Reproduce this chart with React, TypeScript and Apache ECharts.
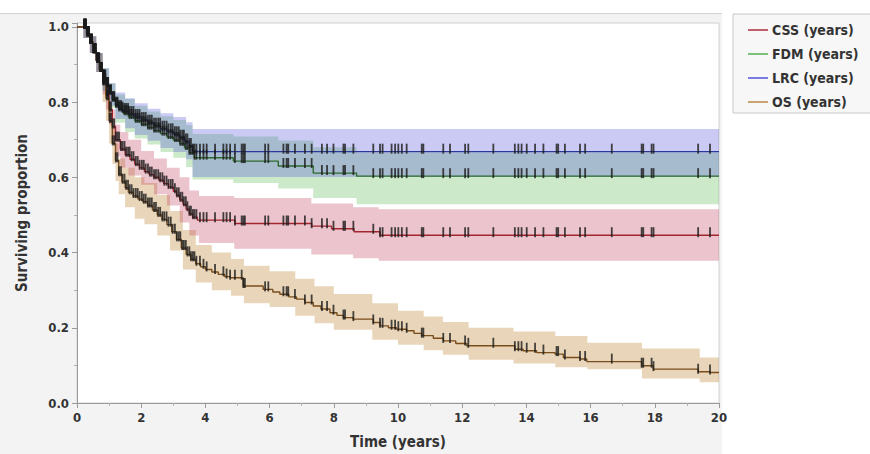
import React, { useEffect, useRef } from 'react';
import * as echarts from 'echarts';

const X_MAX = 20;
const seriesNames = ['CSS (years)', 'FDM (years)', 'LRC (years)', 'OS (years)'];
const xTickLabels = ['0', '2', '4', '6', '8', '10', '12', '14', '16', '18', '20'];

// ---- Kaplan-Meier step data ----
const lrcTimes = [0, 0.2, 0.3, 0.4, 0.5, 0.6, 0.7, 0.8, 0.9, 1.0, 1.1, 1.2, 1.3, 1.4, 1.6, 1.8, 2.0, 2.2, 2.4, 2.6, 2.8, 3.0, 3.2, 3.35, 3.5, 3.6];
const lrcSurv = [1, 1, 0.98, 0.96, 0.935, 0.91, 0.885, 0.865, 0.845, 0.825, 0.808, 0.793, 0.784, 0.776, 0.768, 0.76, 0.752, 0.745, 0.737, 0.729, 0.722, 0.714, 0.705, 0.695, 0.683, 0.668];

const fdmTimes = [0, 0.2, 0.3, 0.4, 0.5, 0.6, 0.7, 0.8, 0.9, 1.0, 1.1, 1.2, 1.3, 1.45, 1.6, 1.8, 2.0, 2.2, 2.4, 2.6, 2.8, 3.0, 3.2, 3.35, 3.5, 3.65, 4.87, 6.27, 7.36, 8.71];
const fdmSurv = [1, 1, 0.98, 0.96, 0.935, 0.91, 0.885, 0.865, 0.845, 0.825, 0.806, 0.79, 0.78, 0.77, 0.76, 0.75, 0.741, 0.732, 0.724, 0.716, 0.707, 0.699, 0.689, 0.678, 0.665, 0.652, 0.643, 0.63, 0.611, 0.603];

const cssTimes = [0, 0.2, 0.3, 0.4, 0.5, 0.6, 0.7, 0.8, 0.9, 1.0, 1.1, 1.2, 1.35, 1.5, 1.65, 1.8, 1.95, 2.1, 2.25, 2.4, 2.55, 2.7, 2.85, 3.0, 3.1, 3.2, 3.3, 3.4, 3.5, 3.6, 3.75, 4.92, 7.31, 7.93, 8.63, 9.44];
const cssSurv = [1, 1, 0.98, 0.96, 0.935, 0.91, 0.885, 0.855, 0.82, 0.78, 0.735, 0.7, 0.675, 0.66, 0.648, 0.635, 0.625, 0.615, 0.607, 0.6, 0.592, 0.583, 0.574, 0.563, 0.552, 0.54, 0.528, 0.515, 0.503, 0.494, 0.486, 0.477, 0.47, 0.463, 0.455, 0.446];

const osTimes = [0, 0.2, 0.3, 0.4, 0.5, 0.6, 0.7, 0.8, 0.9, 1.0, 1.1, 1.2, 1.3, 1.4, 1.5, 1.6, 1.75, 1.9, 2.05, 2.2, 2.35, 2.5, 2.65, 2.8, 2.95, 3.1, 3.25, 3.4, 3.55, 3.7, 3.85, 4.0, 4.2, 4.4, 4.6, 4.77, 5.18, 5.8, 6.1, 6.32, 6.6, 6.84, 7.1, 7.36, 7.6, 7.88, 8.1, 8.3, 8.6, 9.23, 9.44, 9.7, 9.96, 10.27, 10.5, 10.74, 11.1, 11.41, 11.8, 12.14, 13.64, 13.9, 14.32, 14.89, 15.15, 15.67, 15.88, 17.59, 17.95, 19.35, 19.72];
const osSurv = [1, 1, 0.98, 0.96, 0.935, 0.91, 0.885, 0.85, 0.81, 0.75, 0.69, 0.645, 0.608, 0.588, 0.572, 0.56, 0.55, 0.542, 0.535, 0.525, 0.513, 0.5, 0.488, 0.474, 0.455, 0.435, 0.412, 0.395, 0.382, 0.37, 0.362, 0.355, 0.348, 0.342, 0.336, 0.333, 0.311, 0.302, 0.295, 0.289, 0.282, 0.276, 0.267, 0.258, 0.25, 0.24, 0.233, 0.227, 0.223, 0.214, 0.205, 0.2, 0.196, 0.192, 0.185, 0.179, 0.172, 0.165, 0.158, 0.152, 0.143, 0.139, 0.134, 0.13, 0.121, 0.117, 0.11, 0.099, 0.09, 0.083, 0.081];

// ---- confidence bands ----
const lrcBandTimes = [0, 0.2, 0.4, 0.6, 0.8, 1.0, 1.2, 1.5, 1.8, 2.2, 2.6, 3.0, 3.4, 3.6];
const lrcUpper = [1, 1, 0.975, 0.93, 0.89, 0.85, 0.825, 0.81, 0.797, 0.782, 0.77, 0.76, 0.746, 0.728];
const lrcLower = [1, 0.97, 0.93, 0.88, 0.83, 0.79, 0.755, 0.73, 0.712, 0.697, 0.678, 0.667, 0.648, 0.601];

const fdmBandTimes = [0, 0.2, 0.4, 0.6, 0.8, 1.0, 1.2, 1.5, 1.8, 2.2, 2.6, 3.0, 3.4, 3.6, 4.87, 6.27, 7.36, 8.71];
const fdmUpper = [1, 1, 0.975, 0.93, 0.89, 0.85, 0.82, 0.808, 0.79, 0.775, 0.762, 0.752, 0.738, 0.715, 0.708, 0.698, 0.68, 0.666];
const fdmLower = [1, 0.97, 0.93, 0.88, 0.83, 0.785, 0.745, 0.72, 0.703, 0.687, 0.667, 0.652, 0.627, 0.594, 0.585, 0.57, 0.545, 0.528];

const cssBandTimes = [0, 0.2, 0.4, 0.6, 0.8, 0.9, 1.0, 1.1, 1.2, 1.35, 1.6, 2.0, 2.4, 2.8, 3.2, 3.5, 3.8, 4.9, 7.3, 8.6, 9.4];
const cssUpper = [1, 1, 0.975, 0.93, 0.88, 0.85, 0.82, 0.78, 0.74, 0.72, 0.7, 0.67, 0.65, 0.625, 0.6, 0.565, 0.55, 0.545, 0.53, 0.52, 0.515];
const cssLower = [1, 0.97, 0.93, 0.88, 0.82, 0.78, 0.74, 0.69, 0.655, 0.625, 0.605, 0.58, 0.555, 0.525, 0.48, 0.445, 0.425, 0.41, 0.395, 0.385, 0.378];

const osBandTimes = [0, 0.2, 0.4, 0.6, 0.8, 0.9, 1.0, 1.1, 1.2, 1.3, 1.5, 1.8, 2.1, 2.5, 2.9, 3.3, 3.7, 4.2, 4.8, 5.2, 6.0, 6.8, 7.4, 8.0, 9.2, 10.0, 10.8, 11.4, 12.2, 13.6, 14.9, 15.9, 17.6, 19.4];
const osUpper = [1, 1, 0.975, 0.93, 0.88, 0.84, 0.79, 0.735, 0.69, 0.65, 0.625, 0.6, 0.585, 0.553, 0.51, 0.46, 0.42, 0.4, 0.383, 0.365, 0.35, 0.33, 0.31, 0.29, 0.265, 0.245, 0.23, 0.215, 0.2, 0.19, 0.178, 0.16, 0.145, 0.121];
const osLower = [1, 0.97, 0.93, 0.88, 0.8, 0.75, 0.69, 0.635, 0.59, 0.555, 0.52, 0.49, 0.475, 0.445, 0.405, 0.355, 0.32, 0.3, 0.285, 0.265, 0.255, 0.232, 0.212, 0.195, 0.168, 0.155, 0.14, 0.128, 0.115, 0.105, 0.095, 0.09, 0.065, 0.055];

// ---- censoring times ----
const earlyCensor = [0.22, 0.25, 0.28, 0.31, 0.34, 0.37, 0.41, 0.44, 0.47, 0.51, 0.55, 0.58, 0.62, 0.66, 0.69, 0.73, 0.77, 0.81, 0.84, 0.88, 0.93, 0.97, 1.02, 1.06, 1.11, 1.16, 1.21, 1.26, 1.31, 1.37, 1.42, 1.48, 1.53, 1.59, 1.64, 1.7, 1.76, 1.83, 1.89, 1.95, 2.02, 2.08, 2.14, 2.21, 2.27, 2.33, 2.4, 2.46, 2.53, 2.59, 2.66, 2.72, 2.79, 2.85, 2.92, 2.98, 3.05, 3.11, 3.17, 3.22, 3.28, 3.33, 3.39, 3.44, 3.5, 3.55, 3.61, 3.66, 3.72];
const lateCensor = [3.83, 3.94, 4.04, 4.3, 4.56, 4.66, 4.77, 4.92, 5.13, 5.18, 5.23, 5.86, 5.96, 6.43, 6.53, 6.58, 6.79, 7.1, 7.31, 7.63, 7.79, 7.99, 8.3, 8.35, 8.61, 9.23, 9.44, 9.52, 9.8, 9.91, 10.01, 10.12, 10.27, 10.74, 10.79, 11.41, 11.62, 12.09, 12.19, 12.97, 13.64, 13.75, 13.85, 14.01, 14.27, 14.53, 14.94, 14.99, 15.2, 15.67, 15.83, 16.66, 17.59, 17.64, 17.9, 17.96, 19.35, 19.72];

const lineColors = ['#a3262f', '#2f6b2f', '#2b3a9a', '#7a4e1c'];
const bandColors = ['rgba(190,60,90,0.30)', 'rgba(100,190,90,0.33)', 'rgba(80,80,220,0.30)', 'rgba(200,150,80,0.40)'];
const legendColors = ['#c0606c', '#7cc07c', '#7a7ae0', '#c8a46e'];

const FONT = 'DejaVu Sans Condensed';

function stepAt(ts: number[], ss: number[], t: number) {
  let v = ss[0];
  for (let i = 0; i < ts.length; i++) if (ts[i] <= t) v = ss[i];
  return v;
}

function stepLine(ts: number[], ss: number[]) {
  const d = ts.map((t, i) => [t, ss[i]]);
  d.push([X_MAX, ss[ss.length - 1]]);
  return d;
}

function bandSeries(ts: number[], up: number[], lo: number[], color: string) {
  return {
    type: 'custom',
    silent: true,
    clip: true,
    z: 1,
    data: [[0, 0]],
    renderItem: (_p: any, api: any) => {
      const pts: number[][] = [];
      const n = ts.length;
      for (let i = 0; i < n; i++) {
        const te = i + 1 < n ? ts[i + 1] : X_MAX;
        pts.push(api.coord([ts[i], up[i]]), api.coord([te, up[i]]));
      }
      for (let i = n - 1; i >= 0; i--) {
        const te = i + 1 < n ? ts[i + 1] : X_MAX;
        pts.push(api.coord([te, lo[i]]), api.coord([ts[i], lo[i]]));
      }
      return { type: 'polygon', shape: { points: pts }, style: { fill: color } };
    },
  };
}

function censorSeries(ts: number[], ss: number[], extra: number[]) {
  const all = earlyCensor.concat(extra);
  return {
    type: 'scatter',
    silent: true,
    z: 4,
    symbol: 'rect',
    symbolSize: [1.8, 10],
    symbolOffset: [0, -3],
    itemStyle: { color: '#1a1a1a' },
    data: all.map((t) => [t, stepAt(ts, ss, t)]),
  };
}

export default function App() {
  const ref = useRef<HTMLDivElement>(null);
  useEffect(() => {
    if (!ref.current) return;
    const chart = echarts.init(ref.current, undefined, { renderer: 'svg' });
    const curves = [
      { t: cssTimes, s: cssSurv, bt: cssBandTimes, up: cssUpper, lo: cssLower },
      { t: fdmTimes, s: fdmSurv, bt: fdmBandTimes, up: fdmUpper, lo: fdmLower },
      { t: lrcTimes, s: lrcSurv, bt: lrcBandTimes, up: lrcUpper, lo: lrcLower },
      { t: osTimes, s: osSurv, bt: osBandTimes, up: osUpper, lo: osLower },
    ];
    const bandOrder = [3, 0, 1, 2];
    const series: any[] = [];
    bandOrder.forEach((i) => series.push(bandSeries(curves[i].bt, curves[i].up, curves[i].lo, bandColors[i])));
    curves.forEach((c, i) =>
      series.push({
        name: seriesNames[i],
        type: 'line',
        step: 'end',
        z: 3,
        showSymbol: false,
        symbol: 'none',
        lineStyle: { color: lineColors[i], width: 1.4 },
        itemStyle: { color: lineColors[i] },
        data: stepLine(c.t, c.s),
      })
    );
    curves.forEach((c) => series.push(censorSeries(c.t, c.s, lateCensor)));

    const labelStyle = { fontFamily: FONT, fontSize: 13, fontWeight: 'bold', color: '#333' };
    const nameStyle = { fontFamily: FONT, fontSize: 15, fontWeight: 'bold', color: '#333' };

    chart.setOption({
      animation: false,
      backgroundColor: '#ffffff',
      graphic: [
        { type: 'rect', z: -10, shape: { x: 0, y: 13, width: 722, height: 441 }, style: { fill: '#f3f3f3' } },
        { type: 'line', z: -9, shape: { x1: 0, y1: 13.5, x2: 722, y2: 13.5 }, style: { stroke: '#d2d2d2', lineWidth: 1 } },
      ],
      grid: {
        left: 77,
        right: 151,
        top: 23,
        bottom: 50,
        show: true,
        backgroundColor: '#ffffff',
        borderColor: '#d0d0d0',
        borderWidth: 1,
      },
      legend: {
        data: seriesNames.map((n, i) => ({ name: n, itemStyle: { color: legendColors[i] } })),
        orient: 'vertical',
        left: 733,
        top: 14,
        padding: [9, 90, 4, 15],
        itemGap: 10,
        itemWidth: 20,
        itemHeight: 2,
        icon: 'rect',
        backgroundColor: '#f7f7f7',
        borderColor: '#c8c8c8',
        borderWidth: 1,
        selectedMode: false,
        textStyle: { fontFamily: FONT, fontSize: 14, fontWeight: 'bold', color: '#333', padding: [0, 0, 0, -1] },
      },
      xAxis: {
        type: 'value',
        min: 0,
        max: X_MAX,
        interval: 2,
        name: 'Time (years)',
        nameLocation: 'middle',
        nameGap: 31,
        nameTextStyle: nameStyle,
        axisLine: { show: true, lineStyle: { color: '#9a9a9a' } },
        axisTick: { show: true, length: 5, lineStyle: { color: '#9a9a9a' } },
        minorTick: { show: true, splitNumber: 2, length: 3, lineStyle: { color: '#b0b0b0' } },
        splitLine: { show: false },
        axisLabel: {
          margin: 8,
          ...labelStyle,
          formatter: (v: number) => xTickLabels[Math.round(v / 2)] ?? '',
        },
      },
      yAxis: {
        type: 'value',
        min: 0,
        max: 1.01,
        interval: 0.2,
        name: 'Surviving proportion',
        nameLocation: 'middle',
        nameGap: 48,
        nameTextStyle: nameStyle,
        axisLine: { show: true, lineStyle: { color: '#9a9a9a' } },
        axisTick: { show: true, length: 5, lineStyle: { color: '#9a9a9a' } },
        minorTick: { show: true, splitNumber: 2, length: 3, lineStyle: { color: '#b0b0b0' } },
        splitLine: { show: false },
        axisLabel: {
          margin: 8,
          ...labelStyle,
          showMaxLabel: false,
          formatter: (v: number) => (Math.abs(v * 5 - Math.round(v * 5)) < 1e-6 ? v.toFixed(1) : ''),
        },
      },
      series,
    });
    return () => chart.dispose();
  }, []);
  return <div ref={ref} style={{ position: 'fixed', left: 0, top: 0, width: 870, height: 454 }} />;
}
